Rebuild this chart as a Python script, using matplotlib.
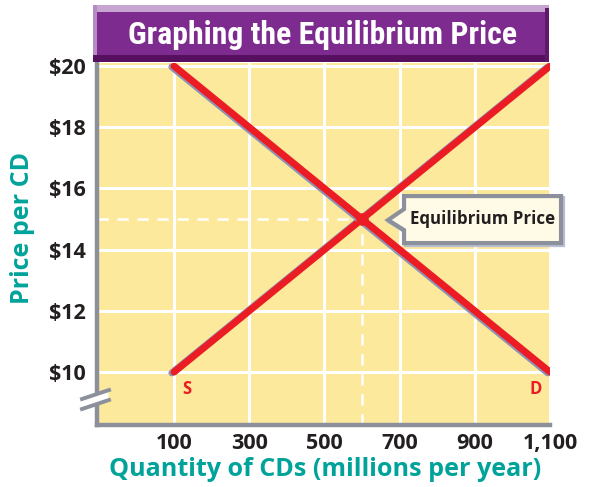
import numpy as np
import matplotlib.pyplot as plt
import matplotlib.patheffects as pe
from matplotlib.patches import Rectangle, Polygon
from matplotlib.lines import Line2D

# chart data
quantity = [100, 1100]
supply_price = [10, 20]
demand_price = [20, 10]
eq_q, eq_p = 600, 15
xticks = [100, 300, 500, 700, 900, 1100]
xtick_labels = ['100', '300', '500', '700', '900', '1,100']
yticks = [10, 12, 14, 16, 18, 20]
ytick_labels = ['$10', '$12', '$14', '$16', '$18', '$20']

RED = '#EC1C24'
TEAL = '#00A39A'
GRAY = '#8B909B'
YELLOW = '#FDE99B'
DARK = '#231F20'
SANS = ['Open Sans', 'DejaVu Sans']

W_PX, H_PX = 594, 487
fig = plt.figure(figsize=(W_PX / 100, H_PX / 100), dpi=100)

def fx(x):
    return x / W_PX

def fy(y):
    # image pixel (top down) -> figure fraction
    return 1 - y / H_PX

left, right, top, bottom = 97, 550, 63, 425
ax = fig.add_axes([fx(left), fy(bottom), fx(right - left), fy(top) - fy(bottom)])
ax.set_facecolor(YELLOW)
ax.set_xlim(-105, 1100)
ax.set_ylim(8.27, 20.1)

ax.set_xticks(xticks)
ax.set_xticklabels(xtick_labels)
ax.set_yticks(yticks)
ax.set_yticklabels(ytick_labels)
ax.tick_params(length=0, labelcolor=DARK)
ax.tick_params(axis='y', pad=8)
ax.tick_params(axis='x', pad=6)
for lab in ax.get_xticklabels() + ax.get_yticklabels():
    lab.set_fontfamily(SANS)
    lab.set_fontweight('bold')
    lab.set_fontsize(15.5)
ax.grid(color='white', lw=2.2)
ax.set_axisbelow(True)

for s in ['top', 'right']:
    ax.spines[s].set_visible(False)
for s in ['left', 'bottom']:
    ax.spines[s].set_color(GRAY)
    ax.spines[s].set_linewidth(3.2)
    ax.spines[s].set_capstyle('projecting')

# dashed guides to the equilibrium point
ax.plot([ax.get_xlim()[0], eq_q], [eq_p, eq_p], color='white', lw=1.8,
        dashes=(4.5, 3.5), zorder=2)
ax.plot([eq_q, eq_q], [ax.get_ylim()[0], eq_p], color='white', lw=1.8,
        dashes=(4.5, 3.5), zorder=2)

shadow = [pe.SimpleLineShadow(offset=(-1.6, -0.6), shadow_color='#8E93B5', alpha=1, rho=1),
          pe.Normal()]
for price in [supply_price, demand_price]:
    ax.plot(quantity, price, color=RED, lw=5, solid_capstyle='round',
            path_effects=shadow, zorder=3)
ax.plot(eq_q, eq_p, 'o', color=RED, ms=8, zorder=4)

ax.annotate('S', (quantity[0], supply_price[0]), xytext=(9, -12.5),
            textcoords='offset points', color=RED, fontsize=12,
            fontweight='bold', ha='center', va='center', fontfamily=SANS)
ax.annotate('D', (quantity[-1], demand_price[-1]), xytext=(-10, -12.5),
            textcoords='offset points', color=RED, fontsize=12,
            fontweight='bold', ha='center', va='center', fontfamily=SANS)

# axis break on the left spine
brk_gap = Polygon([[fx(83), fy(400)], [fx(108), fy(391)], [fx(109), fy(400)], [fx(83), fy(409)]],
                  closed=True, transform=fig.transFigure, fc='white', ec='none', zorder=5)
fig.patches.append(brk_gap)
for y0, y1 in [(399, 390), (409, 400)]:
    fig.lines.append(Line2D([fx(82), fx(109)], [fy(y0), fy(y1)], transform=fig.transFigure,
                            color=GRAY, lw=2.8, zorder=6))

# title banner
def rect(x0, y0, x1, y1, color):
    fig.patches.append(Rectangle((fx(x0), fy(y1)), fx(x1 - x0), fy(y0) - fy(y1),
                                 transform=fig.transFigure, fc=color, ec='none', zorder=1))

rect(93, 5, 549, 62, '#7E2B8F')
rect(93, 5, 549, 12, '#C7A5D1')
rect(93, 5, 97, 62, '#B58BC2')
rect(93, 55, 549, 62, '#56105F')
rect(545, 8, 549, 62, '#5E1A68')
title = fig.text(fx(323), fy(44), 'Graphing the Equilibrium Price', color='white',
                 fontsize=20, fontweight='bold', ha='center', va='baseline',
                 fontfamily=['Roboto Condensed', 'Roboto', 'DejaVu Sans'])

xlab = fig.text(fx(325), fy(469), 'Quantity of CDs (millions per year)', color=TEAL,
                fontsize=15, fontweight='bold', ha='center', va='center', fontfamily=SANS)
ylab = fig.text(fx(23), fy(228), 'Price per CD', color=TEAL, rotation=90,
                fontsize=15, fontweight='bold', ha='center', va='center', fontfamily=SANS)

# callout for the equilibrium point
fig.canvas.draw()
ex, ey = ax.transData.transform((eq_q, eq_p))
offs = [(26, 1), (42, -10), (42, -23), (199, -23), (199, 24), (42, 24), (42, 11)]
verts = [(ex + dx, ey - dy) for dx, dy in offs]
shadow_verts = [(x + 2, y - 2) for x, y in verts]
fig.patches.append(Polygon(shadow_verts, closed=True, transform=None, fc='#B9BDD2',
                           ec='#B9BDD2', lw=3, zorder=7))
fig.patches.append(Polygon(verts, closed=True, transform=None, fc='#FFFBE7', ec=GRAY,
                           lw=3, joinstyle='miter', zorder=8))
callout = fig.text(fx(410), fy(219), 'Equilibrium Price', color=DARK, fontsize=11,
                   fontweight='bold', ha='left', va='center', zorder=9, fontfamily=SANS)

def fit_width(t, target, vertical=False):
    fig.canvas.draw()
    bb = t.get_window_extent()
    w = bb.height if vertical else bb.width
    t.set_fontsize(t.get_fontsize() * target / w)

fit_width(title, 387)
fit_width(xlab, 432)
fit_width(ylab, 152, vertical=True)
fit_width(callout, 145)

fig.savefig('out.png', dpi=100)
